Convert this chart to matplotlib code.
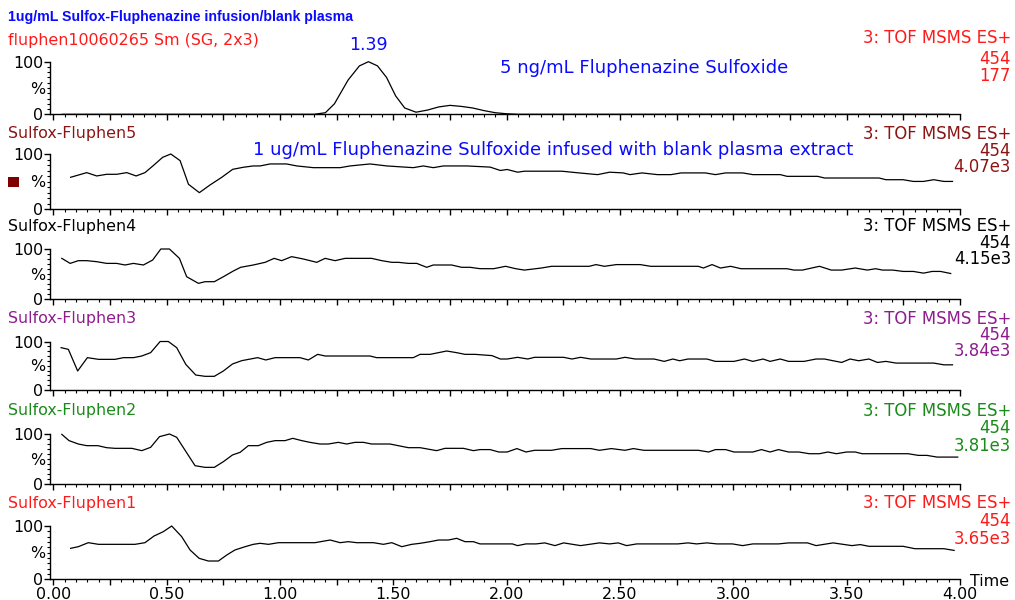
import matplotlib
matplotlib.use("Agg")
import matplotlib.pyplot as plt
from matplotlib.ticker import MultipleLocator, FuncFormatter
from matplotlib.patches import Rectangle

plt.rcParams['font.family'] = ['DejaVu Sans']

# ---------------- data ----------------
title = "1ug/mL Sulfox-Fluphenazine infusion/blank plasma"
subtitle = "fluphen10060265 Sm (SG, 2x3)"
scan_label = "3: TOF MSMS ES+"
mass = "454"

# reference 5 ng/mL chromatogram
t_ref = [0.04, 1.15, 1.20, 1.24, 1.30, 1.35, 1.39, 1.43, 1.47, 1.51, 1.55, 1.60,
         1.65, 1.70, 1.75, 1.80, 1.85, 1.90, 1.95, 2.00, 2.05, 3.95]
y_ref = [0, 0, 3, 20, 65, 92, 100, 92, 70, 35, 12, 4,
         8, 14, 17, 15, 12, 7, 3, 1, 0, 0]

t_f5 = [0.076, 0.147, 0.191, 0.235, 0.279, 0.324, 0.365, 0.404, 0.444, 0.482, 0.518, 0.559,
        0.596, 0.644, 0.691, 0.743, 0.791, 0.838, 0.882, 0.912, 0.956, 1.029, 1.074, 1.147,
        1.265, 1.309, 1.397, 1.471, 1.588, 1.632, 1.676, 1.721, 1.824, 1.927, 1.972, 2.002,
        2.048, 2.078, 2.243, 2.319, 2.401, 2.454, 2.514, 2.544, 2.597, 2.665, 2.725, 2.770,
        2.876, 2.921, 2.966, 3.041, 3.086, 3.207, 3.237, 3.372, 3.402, 3.643, 3.673, 3.749,
        3.794, 3.839, 3.884, 3.929, 3.967]
y_f5 = [57.9, 66.3, 60.3, 63.3, 63.3, 66.3, 60.3, 66.3, 80.2, 94.0, 100, 88.0,
        45.2, 30.1, 44.0, 57.9, 72.3, 76.0, 78.4, 78.4, 82.0, 82.0, 78.4, 75.3,
        75.3, 78.4, 82.0, 78.4, 75.3, 78.4, 75.3, 78.4, 78.4, 76.3, 70.2, 72.0,
        67.1, 68.9, 68.9, 65.8, 62.7, 67.1, 65.8, 62.7, 65.8, 62.7, 62.7, 65.8,
        65.8, 62.7, 65.8, 65.8, 62.7, 62.7, 59.6, 59.6, 56.6, 56.6, 53.5, 53.5,
        50.4, 50.4, 53.5, 50.4, 50.4]

t_f4 = [0.037, 0.074, 0.110, 0.147, 0.191, 0.235, 0.279, 0.316, 0.353, 0.397, 0.438, 0.474,
        0.512, 0.556, 0.588, 0.640, 0.669, 0.710, 0.750, 0.794, 0.826, 0.882, 0.934, 0.974,
        1.007, 1.051, 1.103, 1.162, 1.199, 1.243, 1.287, 1.404, 1.449, 1.493, 1.522, 1.566,
        1.603, 1.647, 1.676, 1.757, 1.801, 1.838, 1.882, 1.942, 1.995, 2.040, 2.078, 2.153,
        2.198, 2.364, 2.394, 2.431, 2.484, 2.589, 2.635, 2.845, 2.868, 2.906, 2.943, 2.988,
        3.034, 3.237, 3.267, 3.305, 3.380, 3.432, 3.478, 3.538, 3.591, 3.628, 3.658, 3.703,
        3.749, 3.794, 3.839, 3.877, 3.914, 3.959]
y_f4 = [81.4, 71.4, 76.8, 76.8, 74.8, 71.4, 71.4, 68.2, 71.4, 68.2, 78.1, 100,
        100, 81.4, 44.9, 31.7, 35.0, 35.0, 44.9, 56.3, 63.6, 68.2, 73.5, 81.4,
        76.8, 84.8, 80.1, 73.5, 81.4, 76.8, 81.4, 81.4, 76.8, 73.5, 73.5, 71.4,
        71.4, 63.6, 68.2, 68.2, 63.6, 63.6, 60.9, 60.8, 65.6, 60.8, 58.1, 62.2,
        65.6, 65.6, 69.0, 65.6, 69.0, 69.0, 65.6, 65.6, 62.2, 69.0, 62.2, 65.6,
        60.8, 60.8, 58.1, 58.1, 65.6, 58.1, 58.1, 62.2, 58.1, 60.8, 58.1, 58.1,
        55.4, 55.4, 52.0, 55.4, 55.4, 51.3]

t_f3 = [0.034, 0.066, 0.107, 0.150, 0.199, 0.272, 0.309, 0.353, 0.390, 0.429, 0.471, 0.507,
        0.544, 0.584, 0.628, 0.669, 0.710, 0.750, 0.790, 0.831, 0.901, 0.937, 0.978, 1.088,
        1.125, 1.166, 1.199, 1.397, 1.426, 1.588, 1.618, 1.662, 1.735, 1.779, 1.816, 1.860,
        1.935, 1.972, 2.002, 2.048, 2.093, 2.123, 2.251, 2.288, 2.326, 2.371, 2.484, 2.522,
        2.567, 2.650, 2.695, 2.733, 2.763, 2.800, 2.883, 2.921, 3.003, 3.049, 3.086, 3.131,
        3.162, 3.207, 3.244, 3.312, 3.365, 3.402, 3.478, 3.515, 3.553, 3.598, 3.636, 3.673,
        3.718, 3.884, 3.929, 3.967]
y_f3 = [87.3, 83.8, 39.2, 66.7, 63.2, 63.2, 66.7, 66.7, 70.1, 77.0, 100, 100,
        87.3, 52.9, 30.9, 28.2, 28.2, 39.2, 53.6, 60.5, 66.7, 61.9, 66.7, 66.7,
        61.9, 73.5, 70.1, 70.1, 66.7, 66.7, 73.5, 73.5, 80.4, 77.0, 73.5, 73.5,
        70.9, 63.9, 63.9, 67.4, 63.9, 67.4, 67.4, 63.9, 67.4, 63.9, 63.9, 67.4,
        63.9, 63.9, 59.0, 63.9, 60.3, 63.9, 63.9, 59.0, 59.0, 63.9, 59.0, 63.9,
        59.0, 63.9, 59.0, 59.0, 63.9, 63.9, 56.8, 63.9, 60.3, 63.9, 56.8, 59.0,
        55.5, 55.5, 51.9, 51.9]

t_f2 = [0.037, 0.069, 0.110, 0.147, 0.196, 0.235, 0.272, 0.346, 0.390, 0.429, 0.468, 0.512,
        0.544, 0.625, 0.669, 0.710, 0.750, 0.790, 0.824, 0.860, 0.904, 0.941, 0.978, 1.022,
        1.056, 1.096, 1.132, 1.176, 1.213, 1.257, 1.294, 1.331, 1.368, 1.404, 1.485, 1.566,
        1.618, 1.691, 1.728, 1.809, 1.853, 1.882, 1.927, 1.965, 2.002, 2.045, 2.085, 2.123,
        2.198, 2.243, 2.371, 2.409, 2.462, 2.522, 2.559, 2.605, 2.845, 2.891, 2.921, 2.966,
        3.003, 3.086, 3.124, 3.162, 3.199, 3.244, 3.289, 3.335, 3.380, 3.417, 3.455, 3.500,
        3.538, 3.568, 3.771, 3.816, 3.854, 3.899, 3.990]
y_f2 = [99.3, 86.8, 80.1, 76.8, 76.8, 72.8, 71.5, 71.5, 66.9, 73.5, 94.7, 100,
        93.4, 37.0, 33.7, 33.7, 45.0, 58.3, 63.6, 76.8, 76.8, 83.4, 86.8, 86.8,
        91.4, 86.8, 83.4, 80.1, 80.1, 83.4, 80.1, 83.4, 83.4, 80.1, 80.1, 72.8,
        72.8, 66.9, 71.5, 71.5, 66.9, 69.0, 69.0, 64.2, 64.2, 71.0, 64.2, 67.6,
        67.6, 71.0, 71.0, 67.6, 71.0, 67.6, 71.0, 67.6, 67.6, 64.2, 69.0, 69.0,
        64.2, 64.2, 69.0, 64.2, 69.0, 64.2, 64.2, 60.8, 60.8, 64.2, 60.8, 64.2,
        64.2, 60.8, 60.8, 57.5, 57.5, 54.1, 54.1]

t_f1 = [0.076, 0.110, 0.154, 0.199, 0.360, 0.404, 0.444, 0.485, 0.522, 0.566, 0.603, 0.643,
        0.684, 0.728, 0.765, 0.801, 0.846, 0.882, 0.912, 0.949, 0.993, 1.154, 1.221, 1.265,
        1.301, 1.338, 1.412, 1.456, 1.493, 1.537, 1.581, 1.618, 1.662, 1.699, 1.743, 1.779,
        1.816, 1.853, 1.882, 2.025, 2.048, 2.085, 2.130, 2.168, 2.213, 2.251, 2.326, 2.409,
        2.454, 2.492, 2.529, 2.574, 2.755, 2.800, 2.838, 2.883, 2.928, 2.996, 3.041, 3.086,
        3.199, 3.244, 3.327, 3.365, 3.440, 3.523, 3.560, 3.598, 3.749, 3.801, 3.929, 3.974]
y_f1 = [58.1, 61.2, 68.7, 65.6, 65.6, 68.7, 81.2, 89.4, 100, 80.0, 55.0, 39.3,
        34.3, 34.3, 45.6, 55.0, 61.2, 65.6, 67.5, 65.6, 68.7, 68.7, 73.7, 68.7,
        70.6, 68.7, 68.7, 65.6, 68.7, 61.2, 65.6, 67.5, 70.6, 73.7, 73.7, 76.9,
        70.6, 70.6, 66.4, 66.4, 63.2, 66.4, 66.4, 68.3, 63.2, 68.3, 63.2, 68.3,
        66.4, 68.3, 63.2, 66.4, 66.4, 68.3, 66.4, 68.3, 66.4, 66.4, 63.2, 66.4,
        66.4, 68.3, 68.3, 63.2, 68.3, 63.2, 65.1, 61.9, 61.9, 57.4, 57.4, 54.2]

trace_names = ["", "Sulfox-Fluphen5", "Sulfox-Fluphen4", "Sulfox-Fluphen3",
               "Sulfox-Fluphen2", "Sulfox-Fluphen1"]
trace_intensity = ["177", "4.07e3", "4.15e3", "3.84e3", "3.81e3", "3.65e3"]
trace_colors = ["#FF1A1A", "#8B1414", "#000000", "#8E1C8E", "#1A8A1A", "#FF1A1A"]
series_t = [t_ref, t_f5, t_f4, t_f3, t_f2, t_f1]
series_y = [y_ref, y_f5, y_f4, y_f3, y_f2, y_f1]

peak_label = "1.39"
peak_time = 1.39
ref_note = "5 ng/mL Fluphenazine Sulfoxide"
infuse_note = "1 ug/mL Fluphenazine Sulfoxide infused with blank plasma extract"

# ---------------- layout (pixels) ----------------
W, H = 1015, 600
panels_px = [(61.7, 114.3), (154.0, 209.3), (249.0, 299.3),
             (341.5, 390.0), (434.0, 484.3), (526.0, 579.3)]
x_left_px, x_right_px = 50, 960

fig = plt.figure(figsize=(W / 100, H / 100), dpi=100)

def fx(x):
    return x / W

def fy(y):
    return 1 - y / H

BLUE = "#0A0AFF"
FS = 11.4
FS_R = 11.9
axes = []
for i, (top, bot) in enumerate(panels_px):
    ax = fig.add_axes([fx(x_left_px), fy(bot), (x_right_px - x_left_px) / W, (bot - top) / H])
    ax.plot(series_t[i], series_y[i], color="black", lw=0.9, clip_on=False)
    ax.set_xlim(-0.015, 4.0)
    ax.set_ylim(0, 100)
    for s in ("top", "right"):
        ax.spines[s].set_visible(False)
    ax.spines["left"].set_linewidth(1.0)
    ax.spines["bottom"].set_linewidth(1.0)
    ax.xaxis.set_major_locator(MultipleLocator(0.25))
    ax.xaxis.set_minor_locator(MultipleLocator(0.05))
    ax.set_yticks([0, 100])
    ax.set_yticklabels(["0", "100"])
    ax.yaxis.set_minor_locator(MultipleLocator(10))
    ax.tick_params(axis="y", which="major", length=4.5, width=1.0, pad=0.5, labelsize=FS)
    ax.tick_params(axis="y", which="minor", length=2.3, width=0.8)
    ax.tick_params(axis="x", which="major", length=4.0, width=1.0, pad=1.5, labelsize=FS)
    ax.tick_params(axis="x", which="minor", length=2.3, width=0.8)
    if i == len(panels_px) - 1:
        ax.xaxis.set_major_formatter(FuncFormatter(
            lambda v, p: ("%.2f" % v) if abs(v * 2 - round(v * 2)) < 1e-6 else ""))
    else:
        ax.set_xticklabels([])
    ax.patch.set_alpha(0)
    axes.append(ax)
    # "%" label at mid height
    fig.text(fx(45), fy((top + bot) / 2 + 1), "%", ha="right", va="center", fontsize=FS)

# header
fig.text(fx(8), fy(17), title, color=BLUE, fontsize=10.15, fontweight="bold",
         family=["Liberation Sans"], ha="left", va="center")
fig.text(fx(8), fy(40), subtitle, color=trace_colors[0], fontsize=FS, ha="left", va="center")

# right-hand labels for each panel
right_y = [(38, 59, 76), (134, 151, 167), (226.5, 243, 259.5),
           (319.5, 335.5, 351.5), (410.5, 428, 446), (503.5, 521.5, 539.5)]
for i in range(6):
    c = trace_colors[i]
    y1, y2, y3 = right_y[i]
    fig.text(fx(1011), fy(y1), scan_label, color=c, fontsize=FS_R, ha="right", va="center")
    fig.text(fx(1011), fy(y2), mass, color=c, fontsize=FS_R, ha="right", va="center")
    fig.text(fx(1011), fy(y3), trace_intensity[i], color=c, fontsize=FS_R, ha="right", va="center")

# left panel names
name_y = [None, 133.5, 226.5, 318.5, 410.5, 503.5]
for i in range(1, 6):
    fig.text(fx(8), fy(name_y[i]), trace_names[i], color=trace_colors[i], fontsize=FS,
             ha="left", va="center")

# annotations
axes[0].annotate(peak_label, xy=(peak_time, 100), xytext=(0, 12), textcoords="offset points",
                 ha="center", va="center", color=BLUE, fontsize=12.5, annotation_clip=False)
fig.text(fx(500), fy(68), ref_note, color=BLUE, fontsize=13.0, ha="left", va="center")
fig.text(fx(253), fy(150), infuse_note, color=BLUE, fontsize=13.0, ha="left", va="center")

# small coloured square beside panel 2
fig.patches.append(Rectangle((fx(8), fy(187)), 11 / W, 10 / H, transform=fig.transFigure,
                             facecolor="#800000", edgecolor="none"))

fig.text(fx(970), fy(581), "Time", fontsize=FS, ha="left", va="center")

fig.savefig("out.png", dpi=100)
